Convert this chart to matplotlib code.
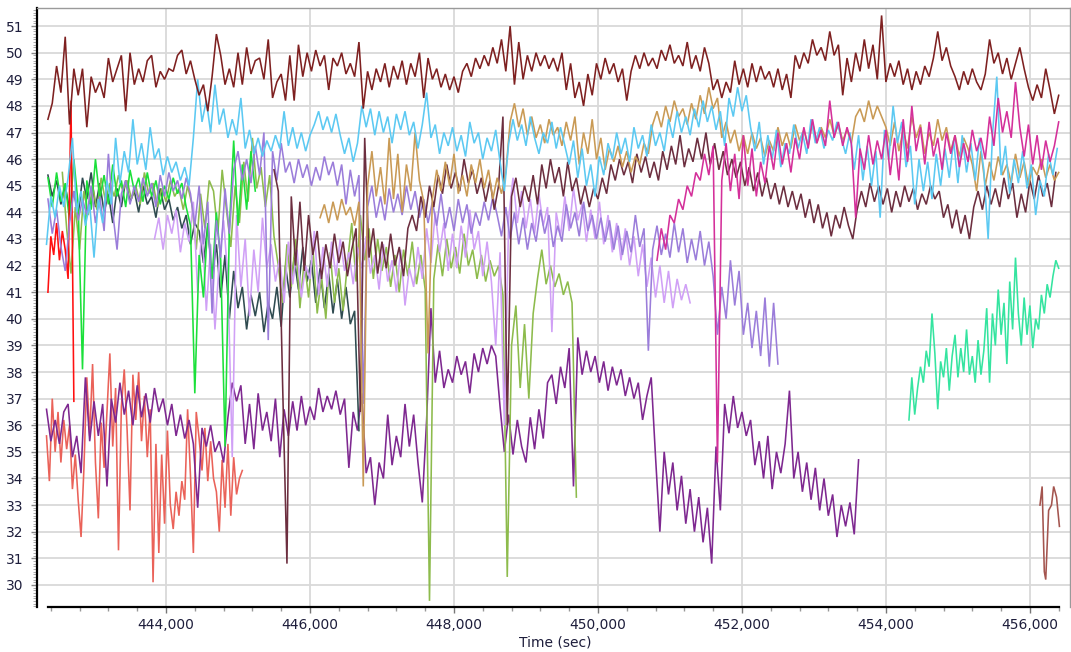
import numpy as np
import matplotlib
matplotlib.use("Agg")
import matplotlib.pyplot as plt
from matplotlib.ticker import FuncFormatter, MultipleLocator

# ---------------- data (time in sec, value) ----------------
maroon_t0, maroon_dt = 442360, 60
maroon_y = [47.5, 48.1, 49.5, 48.5, 50.6, 47.3, 49.4, 48.4, 49.4, 47.2,
            49.1, 48.5, 48.9, 48.3, 49.8, 48.9, 49.4, 49.9, 47.8, 50.0,
            48.8, 49.4, 48.9, 49.7, 49.9, 48.7, 49.3, 49.0, 49.4, 49.3,
            49.9, 50.1, 49.2, 49.7, 49.0, 48.4, 48.8, 47.8, 49.1, 50.7,
            49.9, 48.8, 49.4, 48.7, 50.0, 48.8, 50.2, 49.2, 49.7, 49.8,
            49.0, 50.5, 48.3, 48.9, 49.2, 48.2, 49.9, 48.2, 50.3, 49.1,
            50.0, 49.3, 50.1, 49.5, 49.9, 48.6, 49.8, 49.5, 50.0, 49.2,
            49.6, 49.1, 50.4, 47.9, 49.3, 48.6, 49.4, 48.9, 49.6, 48.7,
            49.5, 49.0, 49.7, 48.8, 49.6, 49.1, 50.0, 48.3, 49.8, 49.0,
            49.4, 48.7, 49.2, 48.6, 49.1, 48.5, 49.3, 49.6, 49.1, 49.8,
            49.4, 49.9, 49.5, 50.2, 49.6, 50.5, 49.3, 51.0, 48.8, 50.4,
            49.0, 49.9, 49.3, 50.0, 49.5, 49.9, 49.4, 49.8, 49.3, 50.0,
            48.6, 49.6, 48.3, 48.9, 48.0, 49.2, 48.4, 49.6, 49.0, 49.8,
            49.2, 49.6, 48.9, 49.4, 48.2, 49.3, 49.9, 49.4, 50.0, 49.5,
            49.8, 49.4, 50.1, 49.7, 50.3, 49.6, 49.9, 49.5, 50.4, 49.4,
            49.9, 49.3, 50.2, 49.6, 48.6, 49.0, 48.3, 48.9, 48.5, 49.7,
            48.8, 49.4, 48.7, 49.6, 48.9, 49.5, 49.0, 49.3, 48.7, 49.4,
            48.6, 49.2, 48.3, 49.9, 49.4, 50.0, 49.6, 50.5, 49.9, 50.2,
            49.7, 50.8, 49.9, 50.3, 48.4, 49.8, 48.9, 50.0, 49.3, 50.5,
            49.4, 50.3, 49.0, 51.4, 48.9, 49.6, 49.1, 49.7, 48.8, 49.4,
            48.6, 49.3, 48.8, 49.5, 49.1, 49.8, 50.8, 49.7, 50.2, 49.5,
            49.1, 48.6, 49.3, 48.8, 49.4, 48.9, 48.6, 49.2, 50.5, 49.6,
            50.0, 49.2, 49.8, 49.0, 49.6, 50.2, 49.4, 48.7, 48.2, 48.8,
            48.3, 49.4, 48.6, 47.7, 48.4]

sky_t0, sky_dt = 442340, 60
sky_y = [42.8, 44.6, 43.8, 45.0, 44.2, 45.3, 46.8, 44.0, 44.8, 43.5,
         44.3, 42.3, 44.5, 43.6, 45.2, 44.3, 46.8, 45.1, 46.3, 45.5,
         47.5, 45.8, 46.6, 45.6, 47.2, 46.0, 46.4, 45.4, 46.1, 45.5,
         45.9, 45.2, 45.7, 45.0, 46.8, 49.0, 47.4, 48.2, 47.0, 48.8,
         47.3, 47.9, 46.8, 47.5, 46.9, 48.3, 46.4, 47.1, 46.2, 46.8,
         46.1, 46.7, 46.3, 46.9, 46.4, 47.8, 46.5, 47.2, 46.4, 47.0,
         46.3, 46.9, 47.3, 47.8, 47.1, 47.6, 47.0, 47.7, 46.9, 46.2,
         46.8, 45.9, 46.6, 48.0, 47.2, 47.9, 46.9, 47.8, 47.0, 47.6,
         46.6, 47.7, 47.1, 47.8, 46.9, 47.4, 46.4, 47.3, 48.5, 46.8,
         47.3, 46.2, 47.0, 46.5, 47.2, 46.3, 46.9, 46.1, 47.4, 46.6,
         47.0, 46.0, 46.8, 46.3, 47.1, 45.9, 44.8, 46.6, 47.5, 46.7,
         47.3, 46.5, 47.6, 46.8, 46.2, 47.0, 46.6, 47.4, 46.4, 47.2,
         46.5, 45.8, 46.7, 45.3, 46.4, 45.0, 45.8, 44.6, 46.1, 45.4,
         46.6, 46.0, 47.0, 46.2, 46.8, 45.9, 47.2, 46.4, 46.9, 46.1,
         47.3, 46.5, 47.0, 46.3, 47.5, 46.8, 47.8, 47.0, 47.6, 46.9,
         47.9, 47.2, 48.2, 47.4, 48.0, 47.1, 47.8, 46.5, 48.3, 47.6,
         48.7, 47.8, 48.4, 47.2, 46.3, 47.4, 45.8, 46.9, 46.0, 47.1,
         45.7, 46.6, 46.2, 47.3, 46.4, 47.0, 46.2, 47.5, 46.6, 47.2,
         46.4, 47.1, 46.7, 47.4, 46.8, 46.2, 47.0, 45.6, 46.9, 45.2,
         46.5, 45.0, 46.3, 43.8, 47.1, 46.0, 48.0, 46.6, 47.4, 45.7,
         46.5, 44.3, 46.0, 44.8, 45.9, 44.5, 46.2, 45.0, 46.4, 45.3,
         46.7, 45.1, 46.9, 45.5, 46.6, 45.2, 46.8, 45.6, 43.0, 46.9,
         49.1, 45.4, 46.5, 44.7, 46.0, 45.1, 46.3, 44.9, 45.8, 43.9,
         45.2, 44.6, 46.2, 45.4, 46.4]

gold_t0, gold_dt = 446140, 60
gold_y = [43.8, 44.3, 43.6, 44.4, 43.7, 44.5, 43.9, 44.2, 43.5, 44.4,
          33.7, 45.0, 46.3, 44.6, 45.7, 44.3, 46.8, 44.5, 46.2, 44.0,
          45.8, 44.8, 47.0, 45.2, 44.4, 38.7, 44.5, 45.6, 44.8, 45.9,
          45.0, 46.2, 44.7, 45.4, 44.6, 45.8, 45.1, 46.0, 44.9, 45.6,
          44.5, 45.3, 44.7, 45.5, 47.4, 48.1, 47.2, 47.9, 46.9, 47.6,
          46.8, 47.3, 46.6, 47.5, 46.9, 47.2, 46.5, 47.4, 46.7, 47.6,
          45.8, 47.0, 46.2, 47.5, 46.0, 46.8, 45.6, 46.4, 45.9, 46.5,
          45.7, 46.3, 45.5, 46.1, 45.8, 46.6, 46.2, 47.3, 47.8, 47.2,
          48.0, 47.4, 48.2, 47.6, 47.9, 47.3, 48.1, 47.5, 48.4, 47.7,
          48.7, 47.9, 48.3, 46.8, 47.4, 46.6, 47.1, 46.3, 46.9, 46.2,
          47.0, 46.4, 46.8, 46.1, 46.7, 46.3, 47.2, 46.5, 47.0, 46.4,
          47.3, 46.7, 47.1, 46.5, 47.4, 46.6, 47.2, 46.8, 47.5, 46.9,
          47.3, 46.7, 47.1, 46.6, 47.6, 47.9, 47.4, 48.2, 47.5, 48.0,
          47.6, 47.2, 46.5, 47.4, 46.3, 47.1, 46.4, 47.6, 46.8, 47.3,
          46.2, 47.0, 46.5, 47.5, 46.7, 47.2, 46.3, 46.9, 46.1, 46.8,
          46.4, 45.8, 44.8, 46.3, 45.0, 45.9, 45.2, 46.1, 45.4, 45.8,
          45.1, 46.2, 45.3, 45.9, 45.0, 45.7, 45.4, 46.0, 45.3, 45.8,
          45.2, 45.5]

plum_t0, plum_dt = 445500, 60
plum_y = [45.6, 44.8, 37.5, 30.8, 44.6, 42.0, 44.4, 41.8, 43.9, 42.4,
          43.3, 41.5, 42.8, 41.9, 43.2, 42.1, 42.9, 41.6, 42.6, 43.4,
          36.5, 46.8, 42.3, 43.4, 41.7, 42.9, 41.9, 43.2, 42.0, 42.7,
          41.6, 43.4, 43.9, 43.3, 44.6, 43.8, 45.0, 44.2, 45.4, 44.7,
          45.8, 44.9, 45.5, 44.8, 46.0, 45.1, 45.6, 44.7, 45.3, 44.4,
          45.2, 44.1, 45.0, 47.6, 36.0, 44.6, 45.3, 44.2, 45.0, 44.4,
          45.4, 44.3, 45.8, 44.9, 46.0, 45.1, 45.7, 44.6, 45.9, 44.8,
          45.3, 44.3, 45.0, 44.2, 44.9, 44.5, 45.3, 44.7, 45.8, 45.2,
          46.0, 45.4, 45.9, 45.1, 46.2, 45.5, 46.1, 45.3, 45.9, 45.2,
          46.3, 45.6, 46.5, 45.8, 46.9, 45.7, 46.4, 45.9, 46.8, 46.0,
          47.0, 45.8, 46.6, 45.6, 46.3, 45.4, 46.0, 45.3, 45.9, 45.0,
          45.7, 44.8, 45.5, 44.6, 45.3, 44.5, 45.1, 44.3, 45.0, 44.2,
          44.8, 44.1, 44.7, 43.8, 44.5, 43.6, 44.3, 43.4, 44.0, 43.1,
          43.9, 43.4, 44.2, 43.5, 43.0, 44.1, 44.8, 44.2, 45.1, 44.4,
          45.0, 44.3, 44.9, 44.0, 44.8, 44.2, 45.0, 44.4, 44.9, 44.1,
          44.7, 44.3, 45.0, 44.5, 44.8, 43.8, 44.3, 43.4, 44.1, 43.2,
          43.9, 43.0, 44.2, 44.8, 44.1, 45.0, 44.3, 44.9, 44.2, 45.3,
          44.5, 45.1, 43.8, 44.7, 44.0, 45.2, 44.5, 45.4, 44.6, 45.1,
          44.2, 45.5]

magenta_t0, magenta_dt = 450820, 60
magenta_y = [42.2, 43.4, 42.6, 43.9, 43.6, 44.5, 44.1, 45.0, 44.6, 45.5,
             45.2, 46.2, 45.4, 46.5, 34.6, 45.2, 46.6, 44.8, 46.2, 44.5,
             46.9, 45.0, 46.4, 44.6, 45.9, 45.1, 46.5, 45.6, 47.0, 45.8,
             46.6, 45.5, 46.8, 46.0, 47.2, 46.4, 47.5, 46.6, 47.1, 46.5,
             48.2, 46.8, 47.4, 46.5, 47.2, 46.6, 43.8, 46.4, 45.6, 46.9,
             45.8, 46.7, 46.0, 47.1, 45.4, 46.8, 45.2, 47.5, 45.9, 48.0,
             46.3, 47.2, 45.8, 47.4, 46.1, 46.8, 45.6, 47.0, 46.2, 46.9,
             45.7, 46.6, 45.9, 47.1, 46.3, 46.8, 46.0, 47.6, 46.5, 48.3,
             47.0, 47.8, 46.8, 48.9, 47.2, 46.1, 47.3, 45.8, 46.9, 45.6,
             46.7, 45.9, 46.5, 47.4]

mpurple_t0, mpurple_dt = 442360, 60
mpurple_y = [44.5, 43.2, 44.1, 42.7, 41.8, 43.6, 44.8, 43.7, 44.5, 43.9,
             45.0, 43.6, 44.6, 43.3, 46.2, 44.0, 42.6, 44.7, 45.2, 44.3,
             45.0, 44.4, 45.3, 44.6, 45.1, 44.2, 45.4, 44.6, 45.5, 44.8,
             45.2, 44.5, 45.3, 44.7, 43.5, 45.0, 42.8, 44.4, 40.2, 43.7,
             42.3, 44.9, 43.2, 45.6, 46.3, 45.2, 46.0, 45.1, 46.5, 45.4,
             47.0, 39.2, 46.3, 45.2, 46.6, 45.5, 45.9, 45.1, 46.0, 45.3,
             45.8, 45.0, 45.7, 45.2, 46.1, 45.4, 45.9, 45.0, 45.8, 44.3,
             45.6, 44.6, 45.4, 36.8, 44.2, 45.0, 43.8, 44.6, 43.7, 44.9,
             44.0, 44.7, 43.9, 45.0, 44.1, 44.8, 43.8, 44.5, 43.6, 44.4,
             43.5, 44.7, 43.4, 44.2, 43.3, 44.5, 43.6, 44.3, 43.2, 44.0,
             43.5, 44.4, 43.7, 44.6, 43.9, 43.1, 44.2, 43.0, 44.0, 42.8,
             43.8, 42.6, 43.6, 42.9, 44.1, 43.2, 43.9, 42.7, 43.5, 42.9,
             44.3, 43.4, 44.0, 43.1, 44.4, 43.3, 43.9, 43.0, 43.8, 42.9,
             43.7, 42.6, 43.5, 42.4, 43.3, 42.5, 43.9, 42.7, 43.4, 38.8,
             42.6, 43.5, 42.4, 43.2, 42.3, 43.6, 42.5, 43.4, 42.1, 43.0,
             42.2, 43.3, 42.0, 42.9, 41.6, 39.4, 41.2, 40.0, 42.2, 40.5,
             41.8, 39.4, 40.6, 38.9, 40.3, 38.6, 40.8, 38.2, 40.6, 38.3]

lav_t0, lav_dt = 443840, 60
lav_y = [43.0, 43.8, 42.6, 43.9, 43.2, 44.1, 42.5, 43.6, 42.9, 44.4,
         41.0, 43.5, 40.3, 42.8, 39.6, 42.2, 43.7, 41.5, 34.8, 43.9,
         41.2, 43.0, 40.1, 42.6, 41.0, 43.8, 41.9, 42.8, 41.4, 42.3,
         40.6, 42.9, 41.3, 42.6, 40.8, 42.0, 41.5, 43.3, 40.9, 42.7,
         41.2, 42.9, 41.6, 43.0, 41.8, 42.5, 41.3, 42.7, 41.9, 43.1,
         41.7, 42.4, 41.1, 42.8, 41.4, 42.2, 41.0, 42.6, 40.5, 41.9,
         41.2, 42.7, 41.5, 43.4, 42.1, 44.0, 42.5, 43.6, 41.8, 43.2,
         41.9, 43.5, 42.3, 44.1, 42.6, 43.3, 41.6, 42.9, 41.4, 39.0,
         42.5, 36.0, 43.8, 45.3, 43.6, 44.8, 43.4, 44.5, 43.2, 44.7,
         43.5, 44.2, 39.5, 44.0, 43.1, 44.6, 43.3, 44.9, 43.7, 44.3,
         42.9, 44.1, 43.0, 44.4, 42.8, 43.9, 42.5, 43.6, 42.2, 43.4,
         42.0, 43.1, 41.6, 42.8, 41.2, 42.3, 40.8, 42.0, 40.6, 41.8,
         40.4, 41.5, 40.7, 41.3, 40.6]

green_t0, green_dt = 442360, 60
green_y = [45.3, 44.2, 45.5, 44.4, 45.1, 43.7, 46.0, 44.3, 38.1, 45.2,
           44.1, 46.0, 44.5, 45.4, 44.3, 45.8, 44.6, 45.2, 44.2, 45.6,
           44.8, 45.3, 44.4, 45.5, 44.6, 45.2, 44.3, 45.0, 44.5, 45.3,
           44.7, 45.1, 44.2, 43.5, 37.2, 42.4, 40.8, 43.6, 41.5, 44.0,
           42.2, 35.2, 43.4, 46.7, 43.5, 45.8, 44.1, 46.3, 44.8]

olive_t0, olive_dt = 442560, 60
olive_y = [45.5, 43.4, 41.7, 44.2, 42.6, 44.8, 43.9, 45.0, 44.1, 45.3,
           44.4, 45.1, 44.6, 45.4, 44.8, 45.2, 44.5, 45.0, 44.3, 45.5,
           44.7, 45.1, 44.2, 44.9, 44.4, 45.2, 44.6, 44.9, 44.1, 45.0,
           44.3, 42.6, 44.7, 43.4, 45.2, 44.8, 43.2, 45.6, 44.1, 42.7,
           45.0, 43.6, 45.9, 44.4, 46.8, 44.9, 45.7, 44.2, 45.4, 43.1,
           42.0, 40.6, 42.8, 41.2, 43.0, 40.4, 42.2, 40.8, 42.7, 40.2,
           41.6, 40.0, 42.5, 40.6, 41.9, 40.3, 42.1, 43.6, 41.4, 43.9,
           42.2, 43.4, 41.5, 43.0, 41.8, 42.7, 41.2, 42.4, 41.0, 42.6,
           41.6, 42.9, 41.3, 42.4, 41.1, 29.4, 41.5, 42.8, 41.6, 43.0,
           41.9, 42.7, 41.7, 43.2, 42.0, 42.6, 41.5, 42.4, 41.4, 42.2,
           41.6, 42.0, 40.9, 30.3, 39.0, 40.5, 37.4, 39.8, 37.0, 40.2,
           41.5, 42.6, 41.3, 42.0, 41.2, 41.7, 40.9, 41.4, 40.6, 33.3]

slate_t0, slate_dt = 442360, 60
slate_y = [45.4, 44.6, 45.2, 44.3, 45.0, 44.1, 44.8, 43.9, 45.3, 44.5,
           45.5, 44.2, 45.1, 44.0, 44.7, 43.6, 44.9, 44.2, 45.2, 44.4,
           44.8, 44.0, 45.0, 44.3, 44.6, 43.8, 44.9, 44.1, 44.5, 43.7,
           44.2, 43.4, 43.9, 42.8, 43.6, 43.3, 42.1, 43.5, 41.6, 42.8,
           40.8, 42.4, 40.0, 41.8, 40.4, 41.2, 39.6, 40.9, 40.1, 41.0,
           39.5, 40.6, 40.0, 41.2, 39.7, 42.0, 40.8, 42.3, 41.1, 42.7,
           41.4, 42.2, 40.6, 41.9, 40.4, 41.7, 40.2, 41.5, 40.0, 41.2,
           39.8, 40.3, 35.8]

red_t0, red_dt = 442360, 40
red_y = [41.0, 43.1, 42.4, 43.6, 42.2, 43.3, 42.6, 41.5, 48.2, 36.9]

salmon_t0, salmon_dt = 442340, 40
salmon_y = [35.6, 33.9, 37.0, 35.0, 36.5, 34.6, 36.2, 35.1, 36.0, 33.6,
            34.9, 33.2, 31.8, 34.4, 37.8, 35.6, 38.3, 34.6, 32.5, 36.1,
            34.4, 36.5, 38.7, 35.2, 37.4, 31.3, 36.7, 38.1, 35.8, 32.8,
            37.9, 36.2, 38.0, 35.4, 37.1, 34.8, 36.6, 30.1, 35.3, 31.2,
            34.9, 32.3, 35.8, 33.0, 32.1, 33.5, 32.6, 33.9, 33.2, 36.6,
            34.1, 31.2, 36.5, 35.5, 34.3, 35.9, 33.9, 35.4, 34.0, 33.5,
            32.0, 34.7, 32.9, 35.3, 32.6, 34.8, 33.4, 34.0, 34.3]

dpurple_t0, dpurple_dt = 442340, 60
dpurple_y = [36.6, 35.4, 36.2, 35.3, 36.5, 36.8, 34.8, 35.6, 34.2, 37.8,
             35.4, 36.9, 35.6, 36.8, 33.7, 37.0, 36.1, 37.6, 36.4, 37.3,
             36.0, 37.5, 36.3, 37.2, 36.1, 37.4, 36.5, 37.0, 36.0, 36.8,
             35.6, 36.4, 35.5, 36.2, 35.3, 32.9, 35.9, 35.2, 36.0, 35.0,
             35.4, 34.6, 36.3, 37.6, 36.9, 37.5, 35.3, 36.8, 35.1, 37.2,
             35.8, 36.5, 35.4, 37.0, 34.8, 36.6, 35.6, 36.9, 35.8, 37.1,
             36.0, 36.7, 36.2, 37.4, 36.5, 37.1, 36.6, 37.3, 36.4, 37.0,
             34.4, 36.5, 35.8, 37.2, 34.2, 34.8, 33.0, 34.6, 34.0, 36.4,
             34.5, 35.6, 34.8, 36.8, 35.2, 36.4, 34.6, 33.1, 36.2, 40.4,
             37.6, 38.8, 37.4, 38.1, 37.6, 38.6, 37.9, 38.4, 37.2, 38.7,
             38.0, 38.9, 38.3, 39.0, 38.6, 36.7, 35.0, 36.4, 34.9, 36.2,
             35.2, 34.6, 36.3, 35.1, 36.6, 35.5, 37.6, 37.9, 36.8, 38.2,
             37.4, 38.9, 33.7, 39.3, 37.9, 38.8, 38.0, 38.6, 37.6, 38.4,
             37.3, 38.2, 37.5, 38.1, 37.1, 37.8, 37.0, 37.6, 36.2, 37.1,
             37.8, 34.8, 32.0, 35.0, 33.4, 34.6, 32.8, 34.1, 32.3, 33.6,
             32.0, 33.3, 31.6, 32.9, 30.8, 35.2, 32.8, 36.8, 35.7, 37.1,
             35.9, 36.5, 35.6, 36.2, 34.5, 35.4, 34.0, 35.6, 33.6, 35.0,
             34.2, 35.3, 37.3, 34.0, 35.0, 33.5, 34.6, 33.2, 34.4, 32.8,
             34.0, 32.6, 33.4, 31.8, 33.0, 32.2, 33.1, 31.9, 34.7]

seafoam_t0, seafoam_dt = 454320, 40
seafoam_y = [36.2, 37.8, 36.4, 37.4, 38.2, 37.6, 38.8, 38.2, 40.2, 38.7,
             36.6, 38.4, 37.8, 38.9, 37.3, 38.6, 39.4, 37.8, 38.9, 38.0,
             39.6, 37.9, 38.6, 37.6, 39.2, 37.9, 38.8, 40.4, 37.6, 40.2,
             39.0, 41.1, 39.4, 40.6, 38.3, 41.4, 39.6, 42.3, 40.2, 39.0,
             40.8, 39.4, 40.5, 38.9, 40.0, 39.6, 40.9, 40.2, 41.3, 40.8,
             41.6, 42.2, 41.9]

brown_t = [456140, 456170, 456200, 456220, 456260, 456300, 456330, 456370, 456410]
brown_y = [33.0, 33.7, 30.5, 30.2, 32.8, 33.0, 33.7, 33.3, 32.2]

x_ticks = [444000, 446000, 448000, 450000, 452000, 454000, 456000]
y_ticks = list(range(30, 52))
x_label = "Time (sec)"

# ---------------- figure ----------------
fig = plt.figure(figsize=(10.71, 6.52), dpi=100)
W, H = 1071, 652
ax = fig.add_axes([37 / W, (H - 607) / H, (1070 - 37) / W, (607 - 8) / H])

def tt(t0, dt, ys):
    return t0 + dt * np.arange(len(ys))

lw = 1.15
draw = [
    (tt(salmon_t0, salmon_dt, salmon_y), salmon_y, '#EA6259'),
    (tt(dpurple_t0, dpurple_dt, dpurple_y), dpurple_y, '#7E2890'),
    (tt(seafoam_t0, seafoam_dt, seafoam_y), seafoam_y, '#35E4A0'),
    (np.array(brown_t), brown_y, '#A4554F'),
    (tt(slate_t0, slate_dt, slate_y), slate_y, '#2F4B50'),
    (tt(olive_t0, olive_dt, olive_y), olive_y, '#8DBB4C'),
    (tt(lav_t0, lav_dt, lav_y), lav_y, '#D0A0F6'),
    (tt(green_t0, green_dt, green_y), green_y, '#1BE03A'),
    (tt(red_t0, red_dt, red_y), red_y, '#FF1010'),
    (tt(mpurple_t0, mpurple_dt, mpurple_y), mpurple_y, '#9B7DDA'),
    (tt(plum_t0, plum_dt, plum_y), plum_y, '#6C2E3F'),
    (tt(gold_t0, gold_dt, gold_y), gold_y, '#C99A55'),
    (tt(sky_t0, sky_dt, sky_y), sky_y, '#5CC9F2'),
    (tt(magenta_t0, magenta_dt, magenta_y), magenta_y, '#D4309A'),
    (tt(maroon_t0, maroon_dt, maroon_y), maroon_y, '#7E2020'),
]
for xs, ys, c in draw:
    ax.plot(xs, ys, color=c, lw=lw, solid_joinstyle='miter', zorder=3)

ax.set_xlim(442208, 456557)
ax.set_ylim(29.17, 51.68)

# grid
ax.set_axisbelow(True)
ax.set_xticks(x_ticks)
ax.set_yticks(y_ticks)
ax.grid(True, which='major', color='#D9D9D9', lw=1.3)
ax.xaxis.set_minor_locator(MultipleLocator(400))
ax.yaxis.set_minor_locator(MultipleLocator(0.1))
ax.xaxis.set_major_formatter(FuncFormatter(lambda v, p: f"{int(v):,}"))

txt_color = '#1E1E3C'
ax.tick_params(axis='x', which='major', length=4, width=1, color='#777777',
               labelsize=10, labelcolor=txt_color, pad=4)
ax.tick_params(axis='x', which='minor', length=3, width=1, color='#999999')
ax.tick_params(axis='y', which='major', length=4, width=1, color='#888888',
               labelsize=10, labelcolor=txt_color, pad=6)
ax.tick_params(axis='y', which='minor', length=3, width=0.7, color='#AAAAAA')

for s in ('top', 'right'):
    ax.spines[s].set_color('#9A9A9A')
    ax.spines[s].set_linewidth(1.0)
ax.spines['left'].set_color('black')
ax.spines['left'].set_linewidth(1.6)
ax.spines['bottom'].set_color('black')
ax.spines['bottom'].set_linewidth(1.6)
ax.spines['bottom'].set_bounds(442361, 456403)

fig.text(555 / W, 1 - 643 / H, x_label, ha='center', va='center',
         fontsize=10, color=txt_color)

fig.savefig('out.png', dpi=100)
